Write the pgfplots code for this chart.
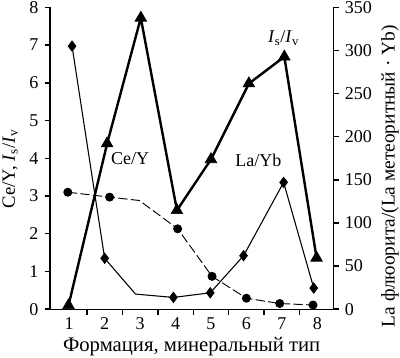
\documentclass[border=0pt]{standalone}
\usepackage{fontspec}
\setmainfont{Liberation Serif}
\usepackage{pgfplots}
\pgfplotsset{compat=1.18}
\newcommand{\fs}{\fontsize{13.5}{16}\selectfont}
\begin{document}
\fs
\begin{tikzpicture}
\pgfplotsset{
  base/.style={
    scale only axis, width=212pt, height=226pt,
    xmin=0.46, xmax=8.45,
    tick align=outside, major tick length=4pt,
    /pgf/number format/assume math mode=true,
    tick label style={font=\fs},
    axis line style={line width=0.9pt},
    tick style={black, line width=1.1pt},
    clip=false,
  }
}
\begin{axis}[base, name=main,
  axis x line*=bottom, axis y line*=left,
  ymin=0, ymax=8, ytick={0,...,8},
  xtick={1.5,2.5,...,7.5},
  xticklabels={},
  extra x ticks={1,...,8},
  extra x tick style={major tick length=0pt},
  xticklabel style={yshift=-1.5pt},
  xlabel={Формация, минеральный тип},
  xlabel style={font=\fontsize{15.5}{18}\selectfont, at={(axis description cs:0.5,-0.123)}, anchor=center},
  ylabel={Ce/Y, \textit{I}\textsubscript{s}/\textit{I}\textsubscript{v}},
  ylabel style={font=\fontsize{14}{17}\selectfont, at={(axis description cs:-0.141,0.465)}, anchor=center},
]
% Ce/Y
\addplot[black, line width=0.7pt, dash pattern=on 7pt off 2.5pt,
  mark=*, mark size=3pt, mark indices={1,2,4,5,6,7,8},
  mark options={solid}]
  coordinates {(0.96,3.10) (2.14,2.97) (2.98,2.88) (4.06,2.13) (5.03,0.87) (6.0,0.29) (6.94,0.15) (7.88,0.11)};
% Is/Iv
\addplot[black, line width=1.8pt, mark=triangle*, mark size=5pt, mark options={line width=0.5pt}]
  coordinates {(0.98,0.1) (2.07,4.39) (3.02,7.72) (4.04,2.62) (5.0,3.97) (6.07,5.98) (7.07,6.69) (7.98,1.36)};
\node[font=\fs] at (axis cs:2.72,4.0) {Ce/Y};
\node[font=\fs] at (axis cs:6.34,3.94) {La/Yb};
\node[font=\fs] at (axis cs:7.05,7.19) {\textit{I}\textsubscript{s}/\textit{I}\textsubscript{v}};
\end{axis}
\begin{axis}[base,
  axis y line*=right, axis x line=none,
  ymin=0, ymax=350, ytick={0,50,...,350},
  ylabel={La флюорита/(La метеоритный · Yb)},
  ylabel style={font=\fontsize{14.5}{17}\selectfont, at={(axis description cs:1.2,0.44)}, anchor=center},
]
\addplot[black, line width=0.8pt, mark=diamond*, mark size=3.7pt,
  mark indices={1,2,4,5,6,7,8}]
  coordinates {(1.08,305) (2.0,59) (2.87,17.5) (3.94,13.6) (4.98,19) (5.92,62) (7.05,147) (7.9,24.5)};
\end{axis}
\pgfresetboundingbox
\path[use as bounding box] ([xshift=-37.5pt,yshift=-36pt]main.south west) rectangle ([xshift=50pt,yshift=5.5pt]main.north east);
\end{tikzpicture}
\end{document}
